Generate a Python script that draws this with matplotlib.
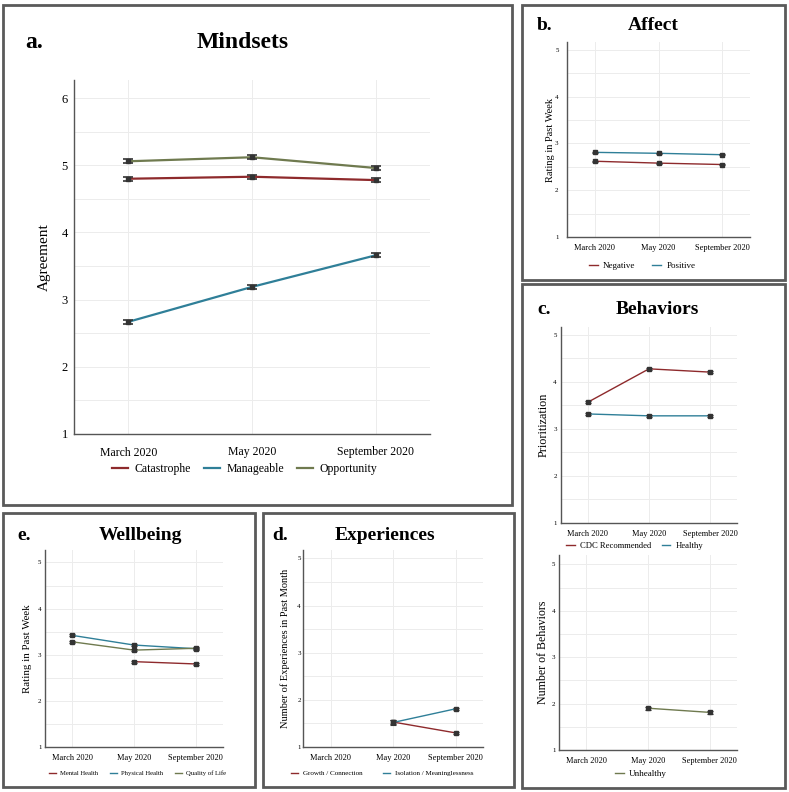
import numpy as np
import matplotlib
matplotlib.use('Agg')
from matplotlib import pyplot as plt
from matplotlib.patches import Rectangle

plt.rcParams['font.family'] = ['Liberation Serif', 'DejaVu Serif']

W, H = 789, 792
months = ['March 2020', 'May 2020', 'September 2020']
nan = np.nan

# a. Mindsets
catastrophe = [4.80, 4.83, 4.78]
manageable = [2.67, 3.19, 3.66]
opportunity = [5.06, 5.12, 4.96]
mind_err = [0.03, 0.03, 0.03]

# b. Affect
negative = [2.62, 2.58, 2.55]
positive = [2.81, 2.79, 2.76]
affect_err = [0.012, 0.012, 0.012]

# c. Behaviors
cdc = [3.57, 4.28, 4.21]
healthy = [3.32, 3.28, 3.28]
unhealthy = [nan, 1.90, 1.81]
beh_err = [0.015, 0.015, 0.015]
unh_err = [nan, 0.03, 0.03]

# e. Wellbeing
mental = [nan, 2.85, 2.80]
physical = [3.42, 3.21, 3.13]
quality = [3.28, 3.10, 3.14]
well_err = [0.02, 0.02, 0.025]

# d. Experiences
growth = [nan, 1.53, 1.30]
isolation = [nan, 1.52, 1.81]
exp_err = [nan, 0.05, 0.025]

RED = '#8e2a2c'
TEAL = '#2f7f98'
OLIVE = '#6f7a4f'

fig = plt.figure(figsize=(W / 100, H / 100), dpi=100)


def box(l, t, r, b):
    fig.patches.append(Rectangle((l / W, 1 - b / H), (r - l) / W, (b - t) / H,
                                 transform=fig.transFigure, fill=False,
                                 edgecolor='#5a5a5a', linewidth=2))


def px_text(x, y, s, size, ha='center'):
    fig.text(x / W, 1 - y / H, s, fontsize=size, fontweight='bold',
             ha=ha, va='center')


def panel(l, t, r, b, series, errs, ylim, ylabel, ylab_x, ylab_fs, ypad,
          leg_x, leg_y, leg_fs, colsp, big=False):
    ax = fig.add_axes([l / W, 1 - b / H, (r - l) / W, (b - t) / H])
    x = np.arange(len(months))
    lw = 1.6 if big else 1.0
    for (name, vals, col), err in zip(series, errs):
        ax.plot(x, vals, color=col, lw=lw, label=name, zorder=2)
        ax.errorbar(x, vals, yerr=err, fmt='s', ms=3.5 if big else 2.2,
                    color='#333333', ecolor='#333333', elinewidth=1.2 if big else 0.8,
                    capsize=3.5 if big else 2, capthick=1.2 if big else 0.8, zorder=3)
    ax.set_xlim(-0.44, 2.44)
    ax.set_ylim(*ylim)
    top = int(np.floor(ylim[1]))
    ax.set_yticks(range(1, top + 1))
    ax.set_yticks(np.arange(1.5, ylim[1], 1.0), minor=True)
    ax.set_xticks(x)
    ax.set_xticklabels(months)
    ax.grid(True, which='both', color='#ececec', lw=0.7)
    ax.set_axisbelow(True)
    for s in ['top', 'right']:
        ax.spines[s].set_visible(False)
    for s in ['left', 'bottom']:
        ax.spines[s].set_color('#555555')
        ax.spines[s].set_linewidth(1.0)
    ax.tick_params(which='both', length=0)
    ax.tick_params(axis='x', labelsize=8.5 if big else 6, pad=9 if big else 5)
    ax.tick_params(axis='y', labelsize=9 if big else 5, pad=ypad)
    ax.set_ylabel(ylabel, fontsize=ylab_fs)
    ax.yaxis.set_label_coords(ylab_x, 0.5)
    ax.legend(loc='center', bbox_to_anchor=(leg_x, leg_y), ncol=3, frameon=False,
              fontsize=leg_fs, handlelength=1.3 if big else 1.0,
              columnspacing=colsp, handletextpad=0.6)
    return ax


# panel boxes
box(3, 5, 512, 505)
box(522, 5, 785, 280)
box(522, 284, 785, 788)
box(3, 513, 255, 787)
box(263, 513, 514, 787)

panel(74, 80, 430, 434,
      [('Catastrophe', catastrophe, RED), ('Manageable', manageable, TEAL),
       ('Opportunity', opportunity, OLIVE)],
      [mind_err] * 3, (1, 6.27), 'Agreement', -0.065, 11, 4.5,
      0.48, -0.099, 8.5, 1.1, big=True)
px_text(25, 43, 'a.', 17, ha='left')
px_text(243, 43, 'Mindsets', 17)

panel(567, 42, 750, 237,
      [('Negative', negative, RED), ('Positive', positive, TEAL)],
      [affect_err] * 2, (1, 5.17), 'Rating in Past Week', -0.066, 7.5, 6,
      0.41, -0.149, 6.5, 1.8)
px_text(537, 26, 'b.', 14, ha='left')
px_text(653, 26, 'Affect', 14)

panel(561, 327, 737, 523,
      [('CDC Recommended', cdc, RED), ('Healthy', healthy, TEAL)],
      [beh_err] * 2, (1, 5.17), 'Prioritization', -0.062, 8.7, 3,
      0.42, -0.117, 6.2, 1.2)
px_text(537, 309, 'c.', 14, ha='left')
px_text(657, 310, 'Behaviors', 14)

panel(559, 555, 737, 750,
      [('Unhealthy', unhealthy, OLIVE)],
      [unh_err], (1, 5.2), 'Number of Behaviors', -0.056, 8.6, 2.5,
      0.46, -0.123, 6.5, 1.2)

panel(45, 550, 223, 747,
      [('Mental Health', mental, RED), ('Physical Health', physical, TEAL),
       ('Quality of Life', quality, OLIVE)],
      [well_err] * 3, (1, 5.27), 'Rating in Past Week', -0.073, 7.8, 2.5,
      0.52, -0.132, 4.8, 1.8)
px_text(17, 535, 'e.', 14, ha='left')
px_text(140, 536, 'Wellbeing', 14)

panel(303, 550, 483, 747,
      [('Growth / Connection', growth, RED), ('Isolation / Meaninglessness', isolation, TEAL)],
      [exp_err] * 2, (1, 5.18), 'Number of Experiences in Past Month', -0.072, 7.5, 1.5,
      0.44, -0.132, 5.1, 3.0)
px_text(272, 535, 'd.', 14, ha='left')
px_text(385, 536, 'Experiences', 14)

fig.savefig('out.png', dpi=100)
